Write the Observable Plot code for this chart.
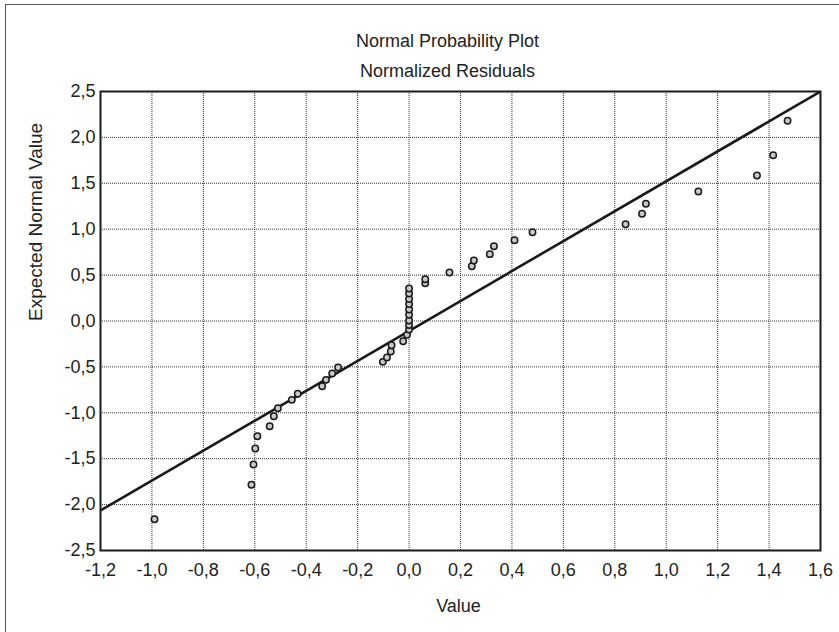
<!DOCTYPE html>
<html>
<head>
<meta charset="utf-8">
<script src="https://cdn.jsdelivr.net/npm/d3@7"></script>
<script src="https://cdn.jsdelivr.net/npm/@observablehq/plot@0.6"></script>
<style>
  html, body { margin: 0; padding: 0; background: #fff; }
  #wrap { position: relative; width: 839px; height: 632px; overflow: hidden; background: #fff; }
  #border { position: absolute; left: 5px; top: 4px; width: 900px; height: 700px; border-top: 1.3px solid #555; border-left: 1.3px solid #555; }
  #chart { position: absolute; left: 0; top: 0; }
</style>
</head>
<body>
<div id="wrap"><div id="border"></div><div id="chart"></div></div>
<script>
const titleText = "Normal Probability Plot";
const subtitleText = "Normalized Residuals";
const xLabel = "Value";
const yLabel = "Expected Normal Value";

// Observed normalized residuals
const residuals = [
  -0.99, -0.613, -0.605, -0.598, -0.590, -0.542, -0.526, -0.510, -0.456, -0.433,
  -0.338, -0.323, -0.299, -0.276, -0.102, -0.086, -0.071, -0.068, -0.023, -0.008,
  0.0, 0.0, 0.0, 0.0, 0.0, 0.0, 0.0, 0.0, 0.0,
  0.063, 0.063, 0.157, 0.244, 0.252, 0.314, 0.330, 0.410, 0.480,
  0.842, 0.906, 0.921, 1.125, 1.353, 1.416, 1.472
];
// Expected normal values
const expected = [
  -2.159, -1.784, -1.563, -1.389, -1.255, -1.146, -1.037, -0.950, -0.859, -0.793,
  -0.710, -0.641, -0.572, -0.507, -0.445, -0.398, -0.332, -0.264, -0.220, -0.151,
  -0.093, -0.044, 0.005, 0.068, 0.125, 0.185, 0.240, 0.300, 0.354,
  0.412, 0.455, 0.528, 0.597, 0.659, 0.728, 0.815, 0.880, 0.967,
  1.054, 1.168, 1.277, 1.411, 1.585, 1.806, 2.181
];
// Reference line: y = intercept + slope * x
const lineIntercept = -0.108;
const lineSlope = 1.630;
const xDomain = [-1.2, 1.6];
const yDomain = [-2.5, 2.5];
const xTicks = [-1.2, -1.0, -0.8, -0.6, -0.4, -0.2, 0.0, 0.2, 0.4, 0.6, 0.8, 1.0, 1.2, 1.4, 1.6];
const yTicks = [-2.5, -2.0, -1.5, -1.0, -0.5, 0.0, 0.5, 1.0, 1.5, 2.0, 2.5];

const points = residuals.map((x, i) => ({x, y: expected[i]}));
const lineData = xDomain.map(x => ({x, y: lineIntercept + lineSlope * x}));
const fmt = v => v.toFixed(1).replace(".", ",");
const font = "'Liberation Sans', Arial, sans-serif";

const chart = Plot.plot({
  width: 839,
  height: 632,
  marginLeft: 100,
  marginRight: 19,
  marginTop: 91,
  marginBottom: 82,
  style: {fontFamily: font, fontSize: "18px", color: "#222", background: "transparent"},
  x: {domain: xDomain, ticks: xTicks},
  y: {domain: yDomain, ticks: yTicks},
  marks: [
    Plot.gridX(xTicks, {stroke: "#333", strokeOpacity: 1, strokeWidth: 1, strokeDasharray: "1,1"}),
    Plot.gridY(yTicks, {stroke: "#333", strokeOpacity: 1, strokeWidth: 1, strokeDasharray: "1,1"}),
    Plot.axisX(xTicks, {tickSize: 0, tickPadding: 13, tickFormat: fmt, label: null, fontSize: 18}),
    Plot.axisY(yTicks, {tickSize: 0, tickPadding: 5, tickFormat: fmt, label: null, fontSize: 18}),
    Plot.line(lineData, {x: "x", y: "y", stroke: "#1a1a1a", strokeWidth: 2.6, clip: true}),
    Plot.dot(points, {x: "x", y: "y", r: 3.2, fill: "#c9c9c9", stroke: "#1a1a1a", strokeWidth: 1.5}),
    Plot.frame({stroke: "#1a1a1a", strokeWidth: 2}),
    Plot.text([titleText], {text: d => d, frameAnchor: "top", dx: -13, dy: -50, lineAnchor: "middle", fontSize: 18, fill: "#222"}),
    Plot.text([subtitleText], {text: d => d, frameAnchor: "top", dx: -13, dy: -20, lineAnchor: "middle", fontSize: 18, fill: "#222"}),
    Plot.text([xLabel], {text: d => d, frameAnchor: "bottom", dx: -2, dy: 56, lineAnchor: "middle", fontSize: 18, fill: "#222"}),
    Plot.text([yLabel], {text: d => d, frameAnchor: "left", dx: -65, rotate: -90, lineAnchor: "middle", fontSize: 19, fill: "#222"})
  ]
});
document.getElementById("chart").appendChild(chart);
</script>
</body>
</html>
